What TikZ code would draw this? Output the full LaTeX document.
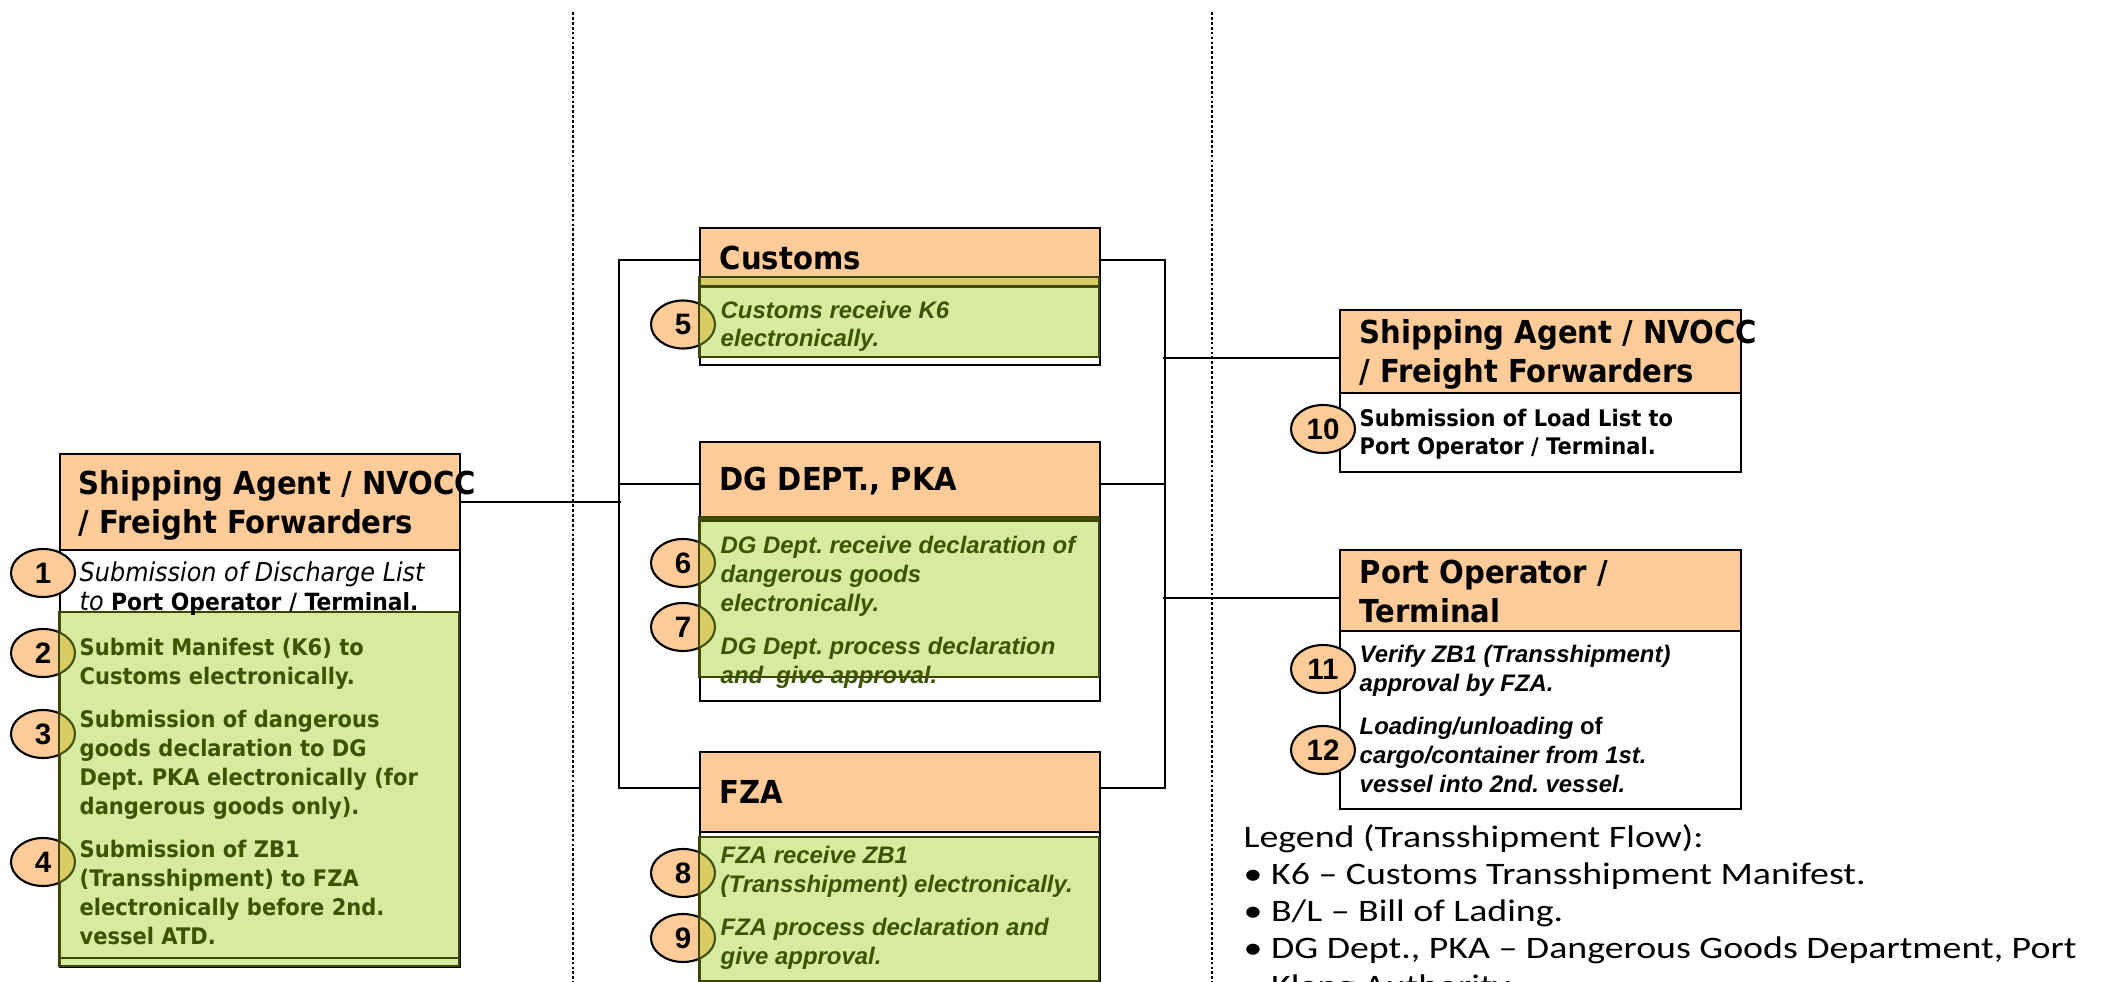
\documentclass[tikz,border=0pt]{standalone}
\usepackage{fontspec}
\usepackage{tikz}
\usetikzlibrary{positioning}
\usetikzlibrary{shapes.geometric}
\newfontfamily\tahoma[FakeStretch=0.92]{DejaVu Sans}
\newfontfamily\arialf{Liberation Sans}
\newfontfamily\legendf[FakeStretch=1.21]{Carlito}
\frenchspacing
\tikzset{
	frame/.style={draw, line width=0.6pt, fill=white, inner sep=0pt, anchor=north west, minimum width=4cm},
	hdr/.style={draw, line width=0.6pt, fill=peach, inner sep=0pt, anchor=north west, minimum width=4cm},
	hdrtxt/.style={inner sep=0pt, align=left, font=\tahoma\bfseries\fontsize{9}{11.1}\selectfont},
	greenpanel/.style={fill=leaf, fill opacity=0.4, draw=oliveline, line width=0.6pt},
	stepnum/.style={ellipse, draw, line width=0.6pt, fill=peach, minimum width=0.64cm, minimum height=0.48cm, inner sep=0pt, font=\arialf\bfseries\fontsize{8.4}{9}\selectfont},
	itemtxt/.style={anchor=base west, inner sep=0pt, align=left, font=\tahoma\bfseries\fontsize{6.5}{8.25}\selectfont},
	acttxt/.style={anchor=base west, inner sep=0pt, align=left, font=\arialf\bfseries\itshape\fontsize{6.8}{8.25}\selectfont},
	legendtxt/.style={anchor=base west, inner sep=0pt, align=left, font=\legendf\fontsize{8.9}{10.53}\selectfont},
	link/.style={line width=0.6pt},
	lane/.style={line width=0.3pt, dash pattern=on 0.8pt off 0.6pt}
}
\begin{document}
\begin{tikzpicture}
	\definecolor{peach}{rgb}{1,0.8,0.6}
	\definecolor{leaf}{rgb}{0.62,0.8,0.063}
	\definecolor{oliveline}{rgb}{0.24,0.27,0}
	\definecolor{leaftext}{rgb}{0.23,0.33,0}
	\useasboundingbox (0,0) rectangle (21.16,-9.82);

	\draw[lane] (5.73,-0.12) -- (5.73,-9.82);
	\draw[lane] (12.12,-0.12) -- (12.12,-9.82);

	\node[frame, minimum height=5.13cm] (sa1Box) at (0.59,-4.53) {};
	\node[hdr, minimum height=0.96cm] (sa1Head) at (0.59,-4.53) {};
	\node[frame, minimum height=1.37cm] (cusBox) at (6.99,-2.27) {};
	\node[hdr, minimum height=0.59cm] (cusHead) at (6.99,-2.27) {};
	\node[frame, minimum height=2.59cm] (dgBox) at (6.99,-4.41) {};
	\node[hdr, minimum height=0.77cm] (dgHead) at (6.99,-4.41) {};
	\node[frame, minimum height=2.30cm] (fzaBox) at (6.99,-7.51) {};
	\node[hdr, minimum height=0.80cm] (fzaHead) at (6.99,-7.51) {};
	\node[frame, minimum width=4.01cm, minimum height=1.62cm] (sa2Box) at (13.39,-3.09) {};
	\node[hdr, minimum width=4.01cm, minimum height=0.83cm] (sa2Head) at (13.39,-3.09) {};
	\node[frame, minimum width=4.01cm, minimum height=2.59cm] (poBox) at (13.39,-5.49) {};
	\node[hdr, minimum width=4.01cm, minimum height=0.81cm] (poHead) at (13.39,-5.49) {};

	\draw[link] (sa1Head.east) -- ++(1.60,0);
	\draw[link] ([yshift=-0.025cm]cusHead.west) -- ++(-0.80,0) |- ([yshift=0.04cm]fzaHead.west);
	\draw[link] ([yshift=-0.035cm]dgHead.west) -- ++(-0.80,0);
	\draw[link] ([yshift=-0.025cm]cusHead.east) -- ++(0.64,0) |- ([yshift=0.04cm]fzaHead.east);
	\draw[link] ([yshift=-0.035cm]dgHead.east) -- ++(0.64,0);
	\draw[link] ([yshift=-0.065cm]sa2Head.west) -- ++(-1.76,0);
	\draw[link] ([yshift=-0.075cm]poHead.west) -- ++(-1.76,0);

	\node[stepnum] (s1) at (0.43,-5.73) {1};
	\node[stepnum] (s2) at (0.43,-6.53) {2};
	\node[stepnum] (s3) at (0.43,-7.34) {3};
	\node[stepnum] (s4) at (0.43,-8.62) {4};
	\node[stepnum] (s5) at (6.83,-3.245) {5};
	\node[stepnum] (s6) at (6.83,-5.63) {6};
	\node[stepnum] (s7) at (6.83,-6.27) {7};
	\node[stepnum] (s8) at (6.83,-8.73) {8};
	\node[stepnum] (s9) at (6.83,-9.38) {9};
	\node[stepnum] (s10) at (13.23,-4.29) {10};
	\node[stepnum] (s11) at (13.23,-6.69) {11};
	\node[stepnum] (s12) at (13.23,-7.50) {12};

	\draw[greenpanel] (0.59,-6.12) rectangle (4.59,-9.66);
	\draw[oliveline, line width=0.6pt] (0.59,-9.58) -- (4.59,-9.58);
	\draw[greenpanel] (6.99,-2.77) rectangle (10.99,-3.57);
	\draw[oliveline, line width=0.6pt] (6.99,-2.86) -- (10.99,-2.86);
	\draw[greenpanel] (6.99,-5.17) rectangle (10.99,-6.77);
	\draw[oliveline, line width=0.6pt] (6.99,-5.21) -- (10.99,-5.21);
	\draw[greenpanel] (6.99,-8.37) rectangle (10.99,-9.81);

	\node[hdrtxt, right=0.19cm of sa1Head.west, yshift=-0.03cm] (sa1Title) {Shipping Agent / NVOCC\\/ Freight Forwarders};
	\node[hdrtxt, right=0.20cm of cusHead.west] (cusTitle) {Customs};
	\node[hdrtxt, right=0.20cm of dgHead.west] (dgTitle) {DG DEPT., PKA};
	\node[hdrtxt, right=0.20cm of fzaHead.west] (fzaTitle) {FZA};
	\node[hdrtxt, right=0.20cm of sa2Head.west, yshift=-0.03cm] (sa2Title) {Shipping Agent / NVOCC\\/ Freight Forwarders};
	\node[hdrtxt, right=0.20cm of poHead.west, yshift=-0.01cm] (poTitle) {Port Operator /\\Terminal};

	\node[itemtxt] (t1) at (0.79,-6.10) {{\mdseries\itshape\fontsize{7.4}{8.25}\selectfont Submission of Discharge List}\\{\mdseries\itshape\fontsize{7.4}{8.25}\selectfont to} \fontsize{6.75}{8.25}\selectfont Port Operator / Terminal.};
	\node[itemtxt, text=leaftext] (t2) at (0.79,-6.84) {Submit Manifest (K6) to\\Customs electronically.};
	\node[itemtxt, text=leaftext] (t3) at (0.79,-8.14) {Submission of dangerous\\goods declaration to DG\\Dept. PKA electronically (for\\dangerous goods only).};
	\node[itemtxt, text=leaftext] (t4) at (0.79,-9.44) {Submission of ZB1\\(Transshipment) to FZA\\electronically before 2nd.\\vessel ATD.};
	\node[acttxt, text=leaftext] (t5) at (7.20,-3.47) {Customs receive K6\\electronically.};
	\node[acttxt, text=leaftext] (t6) at (7.20,-6.11) {DG Dept. receive declaration of\\dangerous goods\\electronically.};
	\node[acttxt, text=leaftext] (t7) at (7.20,-6.83) {DG Dept. process declaration\\and\ \ give approval.};
	\node[acttxt, text=leaftext] (t8) at (7.20,-8.92) {FZA receive ZB1\\(Transshipment) electronically.};
	\node[acttxt, text=leaftext] (t9) at (7.20,-9.64) {FZA process declaration and\\give approval.};
	\node[itemtxt] (t10) at (13.59,-4.55) {Submission of Load List to\\Port Operator / Terminal.};
	\node[acttxt] (t11) at (13.59,-6.91) {Verify ZB1 (Transshipment)\\approval by FZA.};
	\node[acttxt] (t12) at (13.59,-7.92) {Loading/unloading {\upshape of}\\cargo/container from 1st.\\vessel into 2nd. vessel.};

	\node[legendtxt] (legend) at (12.43,-9.96) {Legend (Transshipment Flow):\\• K6 – Customs Transshipment Manifest.\\• B/L – Bill of Lading.\\• DG Dept., PKA – Dangerous Goods Department, Port\\\phantom{• }Klang Authority};
\end{tikzpicture}
\end{document}
